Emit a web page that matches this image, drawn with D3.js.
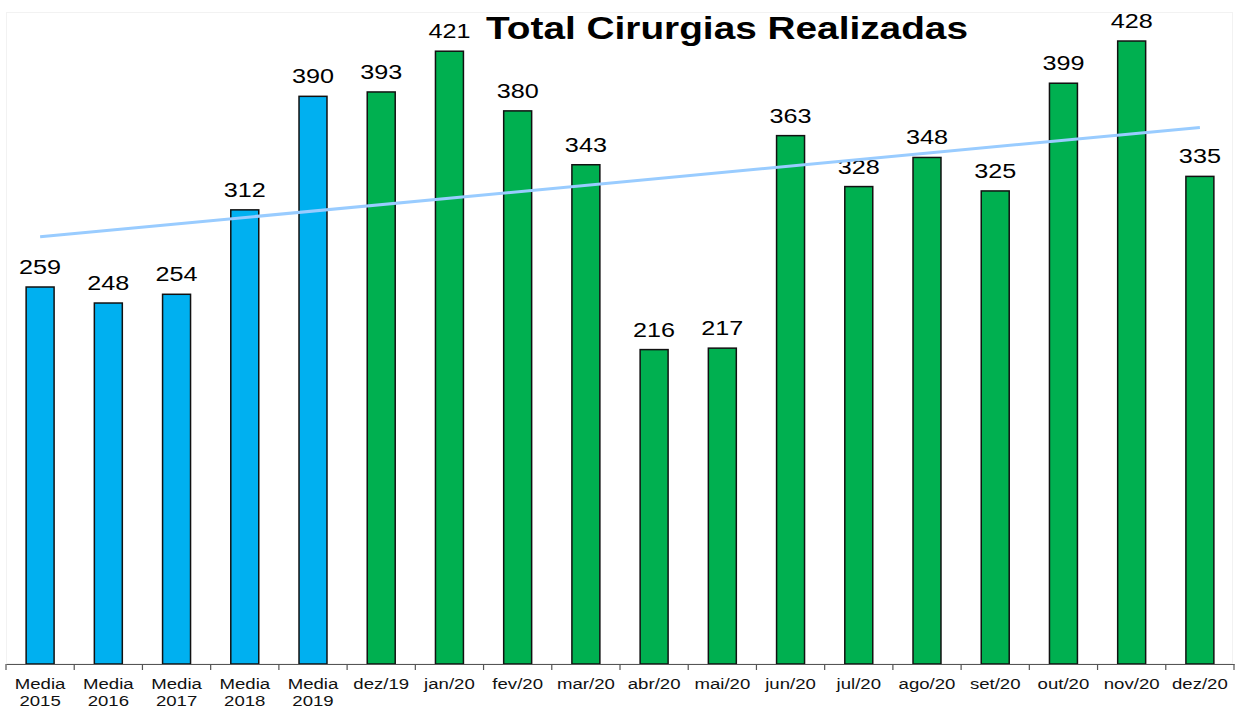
<!DOCTYPE html>
<html>
<head>
<meta charset="utf-8">
<script src="https://cdn.jsdelivr.net/npm/d3@7"></script>
<style>
  body { margin: 0; background: #fff; }
  svg { display: block; font-family: Arial, "Liberation Sans", sans-serif; }
</style>
</head>
<body>
<svg id="viz"></svg>
<script>
// --- Data ---
const categories = ["Media 2015", "Media 2016", "Media 2017", "Media 2018", "Media 2019",
  "dez/19", "jan/20", "fev/20", "mar/20", "abr/20", "mai/20", "jun/20",
  "jul/20", "ago/20", "set/20", "out/20", "nov/20", "dez/20"];
const values = [259, 248, 254, 312, 390, 393, 421, 380, 343, 216, 217, 363, 328, 348, 325, 399, 428, 335];
const yearlyCount = 5; // first five bars are yearly averages

const width = 1235;
const height = 709;
const stretch = 1.2; // text in the picture is a bit wider than plain Arial

const svg = d3.select("#viz")
  .attr("width", width)
  .attr("height", height);

// --- Scales ---
const x = d3.scaleBand()
  .domain(categories)
  .range([6, 1234])
  .paddingInner(0.59)
  .paddingOuter(0.295);

const y = d3.scaleLinear()
  .domain([0, 450])
  .range([664, 9]);

const cx = i => x(categories[i]) + x.bandwidth() / 2;

// faint chart-area border
svg.append("rect")
  .attr("x", 6.5).attr("y", 12.5)
  .attr("width", 1226).attr("height", 651)
  .attr("fill", "none")
  .attr("stroke", "#f2f2f2");

// --- Bars ---
svg.append("g")
  .selectAll("rect")
  .data(values)
  .join("rect")
  .attr("x", (d, i) => x(categories[i]))
  .attr("y", d => y(d))
  .attr("width", x.bandwidth())
  .attr("height", d => y(0) - y(d))
  .attr("fill", (d, i) => i < yearlyCount ? "#00B0F0" : "#00B050")
  .attr("stroke", "#111")
  .attr("stroke-width", 1.5);

// --- Value labels ---
svg.append("g")
  .selectAll("text")
  .data(values)
  .join("text")
  .attr("transform", (d, i) => `translate(${cx(i)},${y(d) - 13}) scale(${stretch},1)`)
  .attr("text-anchor", "middle")
  .attr("font-size", "21px")
  .attr("fill", "#000")
  .text(d => d);

// --- Linear trendline (least squares over the bars) ---
const n = values.length;
const xs = d3.range(1, n + 1);
const mx = d3.mean(xs);
const my = d3.mean(values);
const slope = d3.sum(xs, (xi, i) => (xi - mx) * (values[i] - my)) / d3.sum(xs, xi => (xi - mx) ** 2);
const intercept = my - slope * mx;

svg.append("line")
  .attr("x1", cx(0))
  .attr("y1", y(intercept + slope * 1))
  .attr("x2", cx(n - 1))
  .attr("y2", y(intercept + slope * n))
  .attr("stroke", "#99CCFF")
  .attr("stroke-width", 3);

// --- X axis ---
const axis = svg.append("g")
  .attr("transform", `translate(0,${y(0)})`)
  .call(d3.axisBottom(x).tickSize(0).tickFormat(""));
axis.select(".domain").attr("stroke", "#555").attr("stroke-width", 1.2);

// ticks at band boundaries
const bounds = categories.map(c => x(c) - x.step() * x.paddingInner() / 2);
bounds.push(1234);
axis.selectAll(".bound")
  .data(bounds)
  .join("line")
  .attr("class", "bound")
  .attr("x1", d => d).attr("x2", d => d)
  .attr("y1", 0).attr("y2", 6)
  .attr("stroke", "#555")
  .attr("stroke-width", 1.2);

// tick labels (split into two lines when needed)
const labels = svg.append("g")
  .selectAll("text")
  .data(categories)
  .join("text")
  .attr("transform", (d, i) => `translate(${cx(i)},689) scale(${stretch},1)`)
  .attr("text-anchor", "middle")
  .attr("font-size", "15.5px")
  .attr("fill", "#111");

labels.each(function(d) {
  const parts = d.split(" ");
  const t = d3.select(this);
  parts.forEach((p, k) => {
    t.append("tspan")
      .attr("x", 0)
      .attr("dy", k === 0 ? 0 : 17)
      .text(p);
  });
});

// --- Title ---
svg.append("text")
  .attr("x", 486)
  .attr("y", 39)
  .attr("font-size", "31px")
  .attr("font-weight", "bold")
  .attr("fill", "#000")
  .attr("textLength", 482)
  .attr("lengthAdjust", "spacingAndGlyphs")
  .text("Total Cirurgias Realizadas");
</script>
</body>
</html>
